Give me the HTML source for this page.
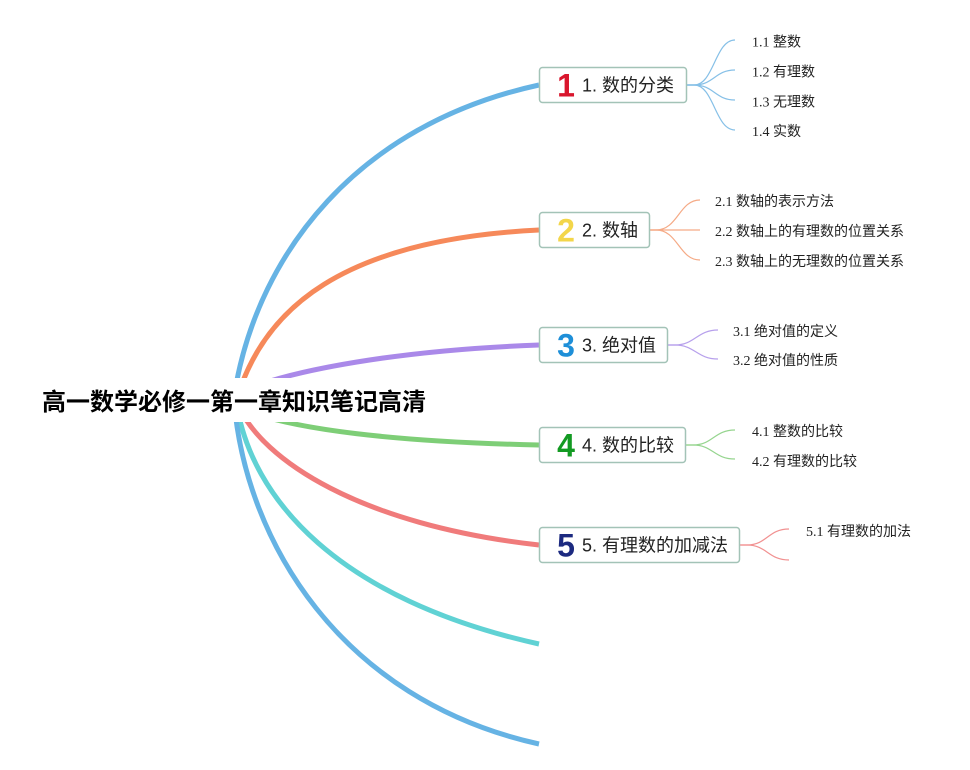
<!DOCTYPE html>
<html>
<head>
<meta charset="utf-8">
<style>
  html,body{margin:0;padding:0;background:#fff;}
  svg{display:block;}
  .t{font-family:"Liberation Sans","Noto Sans CJK SC",sans-serif;}
  .s{font-family:"Liberation Serif","Noto Sans CJK SC",sans-serif;}
</style>
</head>
<body>
<svg width="970" height="770" viewBox="0 0 970 770" xmlns="http://www.w3.org/2000/svg">
  <rect x="0" y="0" width="970" height="770" fill="#ffffff"/>

  <!-- main branches -->
  <g fill="none" stroke-width="5" stroke-linecap="butt">
    <path d="M236,385 C260,255 355,125 539,85" stroke="#66b3e4"/>
    <path d="M238,395 C265,310 340,240 539,230" stroke="#f6895a"/>
    <path d="M240,392 C290,370 400,350 539,345" stroke="#aa89e9"/>
    <path d="M240,408 C290,430 400,442 539,445" stroke="#7ece77"/>
    <path d="M238,405 C262,460 360,525 539,545" stroke="#f07b7b"/>
    <path d="M236,400 C250,500 340,600 539,644" stroke="#60d2d4"/>
    <path d="M234,400 C245,540 340,700 539,744" stroke="#66b3e4"/>
  </g>

  <!-- title background and title -->
  <rect x="30" y="378" width="405" height="44" fill="#ffffff"/>
  <text class="t" x="42" y="410" font-size="24" font-weight="bold" fill="#000">高一数学必修一第一章知识笔记高清</text>

  <!-- sub connectors -->
  <g fill="none" stroke-width="1.2">
    <g stroke="#86c0e7">
      <path d="M687,85 L694,85 C714,85 715,40 735,40"/>
      <path d="M687,85 L694,85 C714,85 715,70 735,70"/>
      <path d="M687,85 L694,85 C714,85 715,100 735,100"/>
      <path d="M687,85 L694,85 C714,85 715,130 735,130"/>
    </g>
    <g stroke="#f5aa86">
      <path d="M649,230 L656,230 C678,230 679,200 700,200"/>
      <path d="M649,230 L700,230"/>
      <path d="M649,230 L656,230 C678,230 679,260 700,260"/>
    </g>
    <g stroke="#b7a0ec">
      <path d="M668,345 L675,345 C695,345 697,330 718,330"/>
      <path d="M668,345 L675,345 C695,345 697,359 718,359"/>
    </g>
    <g stroke="#96d58f">
      <path d="M686,445 L693,445 C713,445 714,430 735,430"/>
      <path d="M686,445 L693,445 C713,445 714,459 735,459"/>
    </g>
    <g stroke="#f19191">
      <path d="M740,545 L747,545 C767,545 768,529 789,529"/>
      <path d="M740,545 L747,545 C767,545 768,560 789,560"/>
    </g>
  </g>

  <!-- node boxes -->
  <g fill="#ffffff" stroke="#a3c3b7" stroke-width="1.5">
    <rect x="539.5" y="67.5" width="147" height="35" rx="3"/>
    <rect x="539.5" y="212.5" width="110" height="35" rx="3"/>
    <rect x="539.5" y="327.5" width="128" height="35" rx="3"/>
    <rect x="539.5" y="427.5" width="146" height="35" rx="3"/>
    <rect x="539.5" y="527.5" width="200" height="35" rx="3"/>
  </g>

  <!-- icons -->
  <g class="t" font-size="32" font-weight="bold" text-anchor="middle">
    <text x="566" y="96.5" fill="#d9162d">1</text>
    <text x="566" y="241.5" fill="#f3d64a">2</text>
    <text x="566" y="356.5" fill="#1e8fd8">3</text>
    <text x="566" y="456.5" fill="#139a22">4</text>
    <text x="566" y="556.5" fill="#1c2a80">5</text>
  </g>

  <!-- node labels -->
  <g class="t" font-size="18" fill="#222">
    <text x="582" y="91.5">1. 数的分类</text>
    <text x="582" y="236.5">2. 数轴</text>
    <text x="582" y="351.5">3. 绝对值</text>
    <text x="582" y="451.5">4. 数的比较</text>
    <text x="582" y="551.5">5. 有理数的加减法</text>
  </g>

  <!-- subtopics -->
  <g class="s" font-size="14" fill="#222">
    <text x="752" y="46.5">1.1 整数</text>
    <text x="752" y="76.5">1.2 有理数</text>
    <text x="752" y="106.5">1.3 无理数</text>
    <text x="752" y="136">1.4 实数</text>

    <text x="715" y="206">2.1 数轴的表示方法</text>
    <text x="715" y="236">2.2 数轴上的有理数的位置关系</text>
    <text x="715" y="266">2.3 数轴上的无理数的位置关系</text>

    <text x="733" y="336">3.1 绝对值的定义</text>
    <text x="733" y="365">3.2 绝对值的性质</text>

    <text x="752" y="436">4.1 整数的比较</text>
    <text x="752" y="466">4.2 有理数的比较</text>

    <text x="806" y="536">5.1 有理数的加法</text>
  </g>
</svg>
</body>
</html>
